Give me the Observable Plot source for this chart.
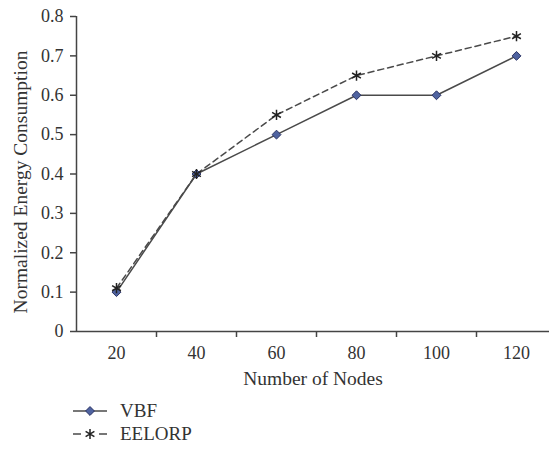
<!DOCTYPE html>
<html><head><meta charset="utf-8">
<script src="https://cdn.jsdelivr.net/npm/d3@7"></script>
<script src="https://cdn.jsdelivr.net/npm/@observablehq/plot@0.6"></script>
<style>
body{margin:0;background:#fff;font-family:"Liberation Serif",serif;}
#legend{padding-top:7px;}
.row{display:flex;align-items:center;height:23px;font-size:19px;color:#333;}
.row svg{margin-left:73px;margin-right:13px;}
svg [aria-label="x-axis label"]{font-size:19.5px;}
</style></head><body><div id="chart"></div><div id="legend"></div>
<script>
const nodes = [20, 40, 60, 80, 100, 120];
const vbf = [0.1, 0.4, 0.5, 0.6, 0.6, 0.7];
const eelorp = [0.11, 0.4, 0.55, 0.65, 0.7, 0.75];
const seriesNames = ["VBF", "EELORP"];
const yTicks = [0, 0.1, 0.2, 0.3, 0.4, 0.5, 0.6, 0.7, 0.8];
const xLabelTicks = [20, 40, 60, 80, 100, 120];
const xDividerTicks = [30, 50, 70, 90, 110];
const xTitle = "Number of Nodes";
const yTitle = "Normalized Energy Consumption";

const vbfData = nodes.map((n, i) => ({n, v: vbf[i]}));
const eeData = nodes.map((n, i) => ({n, v: eelorp[i]}));

const lineColor = "#4a4a4a";
const axisColor = "#444";

const chart = Plot.plot({
  width: 549,
  height: 392,
  marginLeft: 76,
  marginRight: 0,
  marginTop: 16,
  marginBottom: 61,
  style: {fontFamily: "Liberation Serif, serif", fontSize: "18px", color: "#333", background: "#fff"},
  x: {type: "linear", domain: [10, 128.25]},
  y: {domain: [0, 0.8]},
  marks: [
    Plot.ruleY([0], {stroke: axisColor, strokeWidth: 1.5}),
    Plot.ruleX([10], {y1: 0, y2: 0.8, stroke: axisColor, strokeWidth: 1.5}),
    Plot.axisY(yTicks, {tickSize: 6, tickPadding: 7, stroke: axisColor, strokeWidth: 1.5,
      tickFormat: d => d === 0 ? "0" : d.toFixed(1), label: null}),
    Plot.text([yTitle], {frameAnchor: "left", textAnchor: "middle", lineAnchor: "middle", rotate: -90, dx: -56, dy: 8, fontSize: 19.5, fill: "#333"}),
    Plot.axisX(xDividerTicks, {tickSize: 6, tickFormat: () => "", stroke: axisColor, strokeWidth: 1.5, label: null}),
    Plot.axisX(xLabelTicks, {tickSize: 0, tickPadding: 15, label: xTitle, labelAnchor: "center", labelArrow: "none", labelOffset: 53}),
    Plot.line(eeData, {x: "n", y: "v", stroke: lineColor, strokeWidth: 1.5, strokeDasharray: "6,4"}),
    Plot.line(vbfData, {x: "n", y: "v", stroke: lineColor, strokeWidth: 1.5}),
    Plot.dot(vbfData, {x: "n", y: "v", symbol: "diamond2", r: 4, fill: "#4f63a0", stroke: "#2b3465", strokeWidth: 1}),
    Plot.dot(eeData, {x: "n", y: "v", symbol: "asterisk", r: 4.8, stroke: "#222", strokeWidth: 1.5})
  ]
});
document.getElementById("chart").appendChild(chart);

// legend
const legend = d3.select("#legend");
const styles = [
  {name: seriesNames[0], dash: null, symbol: d3.symbolDiamond2, fill: "#4f63a0", stroke: "#2b3465", size: Math.PI * 16},
  {name: seriesNames[1], dash: "8,18,8", symbol: d3.symbolAsterisk, fill: "none", stroke: "#222", size: Math.PI * 23}
];
for (const s of styles) {
  const row = legend.append("div").attr("class", "row");
  const svg = row.append("svg").attr("width", 34).attr("height", 14);
  svg.append("line").attr("x1", 0).attr("x2", 34).attr("y1", 7).attr("y2", 7)
    .attr("stroke", lineColor).attr("stroke-width", 1.5)
    .attr("stroke-dasharray", s.dash);
  svg.append("path").attr("transform", "translate(17,7)")
    .attr("d", d3.symbol(s.symbol, s.size)())
    .attr("fill", s.fill).attr("stroke", s.stroke).attr("stroke-width", s.fill === "none" ? 1.5 : 1);
  row.append("span").text(s.name);
}
</script></body></html>
